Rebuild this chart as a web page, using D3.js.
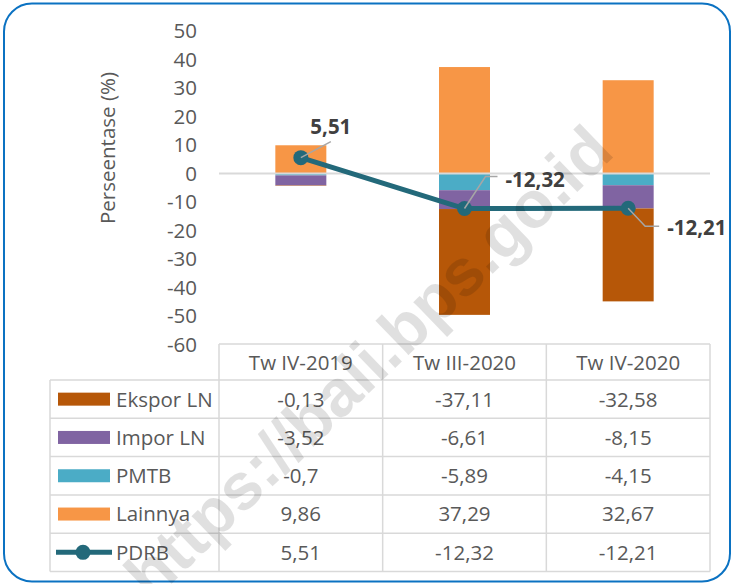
<!DOCTYPE html>
<html><head><meta charset="utf-8">
<script src="https://cdn.jsdelivr.net/npm/d3@7"></script>
<style>
html,body{margin:0;padding:0;background:#fff;}
svg{display:block;font-family:"Open Sans",Lato,sans-serif;}
</style></head>
<body>
<svg id="c" width="733" height="584"></svg>
<script>
const categories = ["Tw IV-2019", "Tw III-2020", "Tw IV-2020"];
const eksporLN = [-0.13, -37.11, -32.58];
const imporLN = [-3.52, -6.61, -8.15];
const pmtb = [-0.7, -5.89, -4.15];
const lainnya = [9.86, 37.29, 32.67];
const pdrb = [5.51, -12.32, -12.21];
const yTicks = [50, 40, 30, 20, 10, 0, -10, -20, -30, -40, -50, -60];

const seriesInfo = [
  {key: "Ekspor LN", values: eksporLN, color: "#B65708"},
  {key: "Impor LN", values: imporLN, color: "#8064A2"},
  {key: "PMTB", values: pmtb, color: "#4BACC6"},
  {key: "Lainnya", values: lainnya, color: "#F79646"}
];
const lineColor = "#23697A";
const fmt = v => String(v).replace(".", ",");
const FS = 20.5;

const svg = d3.select("#c");

// border
svg.append("rect").attr("x", 4).attr("y", 3.5).attr("width", 726).attr("height", 578)
  .attr("rx", 28).attr("ry", 28).attr("fill", "#fff").attr("stroke", "#0B72C2").attr("stroke-width", 2);

const x = d3.scaleBand().domain(categories).range([219, 710]).padding(0);
const y = d3.scaleLinear().domain([-60, 50]).range([344.5, 30.8]);

// stack data
const rows = categories.map((c, i) => {
  const o = {cat: c};
  seriesInfo.forEach(s => o[s.key] = s.values[i]);
  return o;
});
const stackOrder = ["PMTB", "Impor LN", "Ekspor LN", "Lainnya"];
const stacked = d3.stack().keys(stackOrder).offset(d3.stackOffsetDiverging)(rows);
const colorOf = k => seriesInfo.find(s => s.key === k).color;

// y tick labels
svg.append("g").selectAll("text").data(yTicks).join("text")
  .attr("x", 197).attr("y", d => y(d)).attr("dy", "0.36em")
  .attr("text-anchor", "end").attr("font-size", FS).attr("fill", "#595959")
  .text(d => d);

// axis title
svg.append("text").attr("transform", `translate(115,148) rotate(-90)`)
  .attr("text-anchor", "middle").attr("font-size", FS).attr("fill", "#595959")
  .text("Perseentase (%)");

// bars
const barW = 51;
svg.append("g").selectAll("g").data(stacked).join("g")
  .attr("fill", d => colorOf(d.key))
  .selectAll("rect").data(d => d).join("rect")
  .attr("x", d => x(d.data.cat) + x.bandwidth() / 2 - barW / 2)
  .attr("width", barW)
  .attr("y", d => y(Math.max(d[0], d[1])))
  .attr("height", d => Math.abs(y(d[0]) - y(d[1])));

// zero line
svg.append("line").attr("x1", 219).attr("x2", 710).attr("y1", y(0)).attr("y2", y(0))
  .attr("stroke", "#D9D9D9").attr("stroke-width", 2);

// leader lines and labels
const cx = c => x(c) + x.bandwidth() / 2;
const leaders = [
  [[cx(categories[0]), y(pdrb[0])], [cx(categories[0]) + 30, y(pdrb[0]) - 16]],
  [[cx(categories[1]), y(pdrb[1])], [cx(categories[1]) + 21, y(pdrb[1]) - 32], [cx(categories[1]) + 33, y(pdrb[1]) - 32]],
  [[cx(categories[2]), y(pdrb[2])], [cx(categories[2]) + 17, y(pdrb[2]) + 18], [cx(categories[2]) + 31, y(pdrb[2]) + 18]]
];
const labelPos = [
  [cx(categories[0]) + 30, y(pdrb[0]) - 31, "middle"],
  [cx(categories[1]) + 41, y(pdrb[1]) - 29, "start"],
  [cx(categories[2]) + 39, y(pdrb[2]) + 19, "start"]
];

// line
const line = d3.line().x((d, i) => cx(categories[i])).y(d => y(d));
svg.append("path").datum(pdrb).attr("d", line).attr("fill", "none")
  .attr("stroke", lineColor).attr("stroke-width", 5).attr("stroke-linejoin", "round");
svg.append("g").selectAll("circle").data(pdrb).join("circle")
  .attr("cx", (d, i) => cx(categories[i])).attr("cy", d => y(d)).attr("r", 7.5)
  .attr("fill", lineColor);

svg.append("g").selectAll("path").data(leaders).join("path")
  .attr("d", d => d3.line()(d)).attr("fill", "none").attr("stroke", "#A6A6A6").attr("stroke-width", 1.5);
svg.append("g").selectAll("text").data(pdrb).join("text")
  .attr("x", (d, i) => labelPos[i][0]).attr("y", (d, i) => labelPos[i][1]).attr("dy", "0.36em")
  .attr("text-anchor", (d, i) => labelPos[i][2])
  .attr("font-size", FS).attr("font-weight", "bold").attr("fill", "#404040")
  .text(d => fmt(d));

// data table
const tableLeft = 50, tableTop = 344, headH = 36, rowH = 38.3;
const grid = svg.append("g").attr("stroke", "#D9D9D9").attr("stroke-width", 1.5).attr("fill", "none");
const tableRows = [...seriesInfo.map(s => ({key: s.key, values: s.values, color: s.color, type: "bar"})),
  {key: "PDRB", values: pdrb, color: lineColor, type: "line"}];
const tableBottom = tableTop + headH + rowH * tableRows.length;
grid.append("line").attr("x1", 219).attr("x2", 710).attr("y1", tableTop).attr("y2", tableTop);
d3.range(tableRows.length + 1).forEach(i => {
  const yy = tableTop + headH + rowH * i;
  grid.append("line").attr("x1", tableLeft).attr("x2", 710).attr("y1", yy).attr("y2", yy);
});
grid.append("line").attr("x1", tableLeft).attr("x2", tableLeft).attr("y1", tableTop + headH).attr("y2", tableBottom);
[219, ...categories.map(c => x(c) + x.bandwidth())].forEach(xx => {
  grid.append("line").attr("x1", xx).attr("x2", xx).attr("y1", tableTop).attr("y2", tableBottom);
});
svg.append("g").selectAll("text").data(categories).join("text")
  .attr("x", d => cx(d)).attr("y", tableTop + headH / 2 + 1).attr("dy", "0.36em")
  .attr("text-anchor", "middle").attr("font-size", FS).attr("fill", "#595959").text(d => d);
tableRows.forEach((r, i) => {
  const yc = tableTop + headH + rowH * i + rowH / 2;
  if (r.type === "bar") {
    svg.append("rect").attr("x", 58).attr("y", yc - 6.5).attr("width", 52).attr("height", 13).attr("fill", r.color);
  } else {
    svg.append("line").attr("x1", 56).attr("x2", 112).attr("y1", yc).attr("y2", yc)
      .attr("stroke", r.color).attr("stroke-width", 5);
    svg.append("circle").attr("cx", 83).attr("cy", yc).attr("r", 7.5).attr("fill", r.color);
  }
  svg.append("text").attr("x", 116).attr("y", yc).attr("dy", "0.36em").attr("font-size", FS)
    .attr("fill", "#595959").text(r.key);
  svg.append("g").selectAll("text").data(r.values).join("text")
    .attr("x", (d, j) => cx(categories[j])).attr("y", yc).attr("dy", "0.36em")
    .attr("text-anchor", "middle").attr("font-size", FS).attr("fill", "#595959").text(d => fmt(d));
});

// watermark
svg.append("text").attr("transform", "translate(368,362) rotate(-44)")
  .attr("text-anchor", "middle").attr("dy", "0.35em")
  .attr("font-family", "'Liberation Sans', Arial, sans-serif").attr("font-weight", "bold")
  .attr("font-size", 66).attr("fill", "#000").attr("fill-opacity", 0.12)
  .text("https://bali.bps.go.id");
</script>
</body></html>
